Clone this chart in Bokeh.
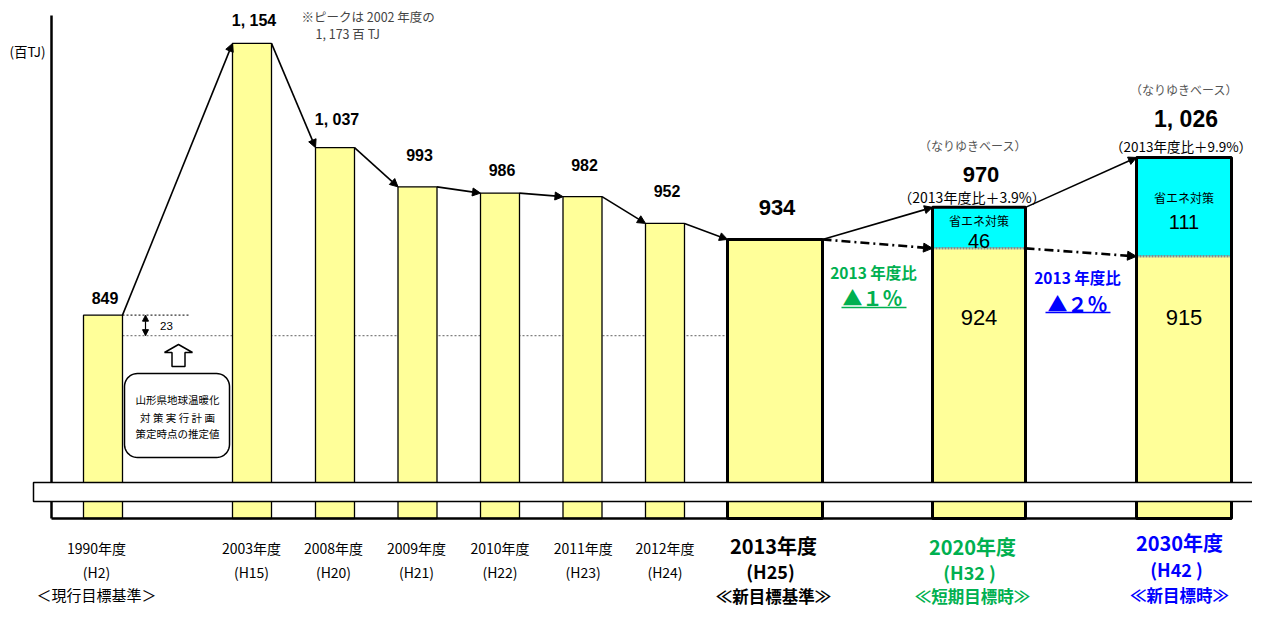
import math
from bokeh.plotting import figure
from bokeh.models import ColumnDataSource, Range1d, Arrow, NormalHead
from bokeh.core.properties import value
from bokeh.embed import file_html
from bokeh.resources import INLINE

# ---------------- data ----------------
years = ["1990年度", "2003年度", "2008年度", "2009年度", "2010年度", "2011年度",
         "2012年度", "2013年度", "2020年度", "2030年度"]
heisei = ["(H2)", "(H15)", "(H20)", "(H21)", "(H22)", "(H23)", "(H24)",
          "(H25)", "(H32 )", "(H42 )"]
notes = ["＜現行目標基準＞", "", "", "", "", "", "",
         "≪新目標基準≫", "≪短期目標時≫", "≪新目標時≫"]
totals = [849, 1154, 1037, 993, 986, 982, 952, 934, 970, 1026]   # 百TJ (なりゆき)
savings = [0, 0, 0, 0, 0, 0, 0, 0, 46, 111]                       # 省エネ対策
value_labels = ["849", "1, 154", "1, 037", "993", "986", "982", "952", "934", "970", "1, 026"]
base_ratio_labels = ["（2013年度比＋3.9%）", "（2013年度比＋9.9%）"]
reduction_labels = ["▲１％", "▲２％"]
estimate_gap_1990 = 23
peak_note = ["※ピークは 2002 年度の", "1, 173 百 TJ"]

# ---------------- layout ----------------
x_pos = [102.5, 251.5, 334.5, 417, 499.5, 582, 664.5, 774.5, 978.5, 1183.5]
bar_w = [39, 39, 39, 39, 39, 39, 39, 95, 93, 95]
bar_lw = [1.3] * 7 + [3, 3, 3]
lab_off = [17, 23, 28, 32, 23.5, 32, 32, 32, 33, 38.7]
lab_size = [16] * 7 + [22, 22, 23]
cat_dx = [-6.5, -0.5, -1.5, -1, 0, 0.7, 0, -1.5, -6.5, -4.5]
year_py = [547.3] * 7 + [545, 546, 542]
heisei_py = [571] * 7 + [570, 571, 568]
note_py = [594] + [0] * 6 + [595, 595, 594]

GREEN = "#00B050"
BLUE = "#0000FF"
YELLOW = "#FFFF99"
CYAN = "#00FFFF"
CJK = value("Noto Sans CJK JP")
LAT = value("Liberation Sans")

W, H, OFF = 1252, 608, 0
K = 0.891
V0, P0 = 976.8, 200.8


def v_at(py):
    """reference-page pixel row -> data value"""
    return V0 + (P0 - py) / K


Y_BASE = v_at(518)

p = figure(width=W, height=H, x_range=Range1d(OFF, OFF + W),
           y_range=Range1d(v_at(OFF + H), v_at(OFF)),
           output_backend="svg", toolbar_location=None,
           x_axis_location=None, y_axis_location=None, min_border=0)
p.outline_line_color = None
p.grid.visible = False
p.background_fill_color = "white"
p.border_fill_color = "white"


def txt(x, y, s, size, color="black", bold=False, font=CJK, align="center"):
    p.text(x=[x], y=[y], text=[s], text_font=font,
           text_font_size=value(f"{size}px"),
           text_font_style="bold" if bold else "normal",
           text_color=color, text_align=align, text_baseline="middle")


target = [t - s for t, s in zip(totals, savings)]
left = [x - w / 2 for x, w in zip(x_pos, bar_w)]
right = [x + w / 2 for x, w in zip(x_pos, bar_w)]

# estimate line for 1990 (849 - 23)
est = totals[0] - estimate_gap_1990
p.segment(x0=[right[0]], y0=[est], x1=[left[7]], y1=[est],
          line_color="#808080", line_width=1.3, line_dash="2 2")
p.segment(x0=[right[0]], y0=[totals[0]], x1=[right[0] + 68], y1=[totals[0]],
          line_color="#333333", line_width=1.2, line_dash="2 2")

src = ColumnDataSource(dict(x=x_pos, w=bar_w, total=totals, target=target, lw=bar_lw))
p.vbar(x="x", width="w", top="target", bottom=Y_BASE, source=src,
       fill_color=YELLOW, line_color=None)
sx = [x for x, s in zip(x_pos, savings) if s > 0]
sw = [w for w, s in zip(bar_w, savings) if s > 0]
st = [t for t, s in zip(totals, savings) if s > 0]
sb = [t for t, s in zip(target, savings) if s > 0]
p.vbar(x=sx, width=sw, top=st, bottom=sb, fill_color=CYAN, line_color=None)
p.segment(x0=[x - w / 2 for x, w in zip(sx, sw)], y0=sb,
          x1=[x + w / 2 for x, w in zip(sx, sw)], y1=sb,
          line_color="#8a8a8a", line_width=2.5, line_dash="2 1")
p.vbar(x="x", width="w", top="total", bottom=Y_BASE, source=src,
       fill_color=None, line_color="black", line_width="lw")

# axis lines
p.segment(x0=[51], y0=[Y_BASE], x1=[51], y1=[v_at(15)], line_color="black", line_width=2.5)
p.segment(x0=[51], y0=[Y_BASE], x1=[right[-1]], y1=[Y_BASE], line_color="black", line_width=2.5)

# axis break band
p.quad(left=[33], right=[1320], bottom=[v_at(501)], top=[v_at(482)],
       fill_color="white", line_color="black", line_width=1.5)

# trend arrows
solid = ColumnDataSource(dict(
    xs=[right[i] for i in range(9)], ys=[totals[i] for i in range(9)],
    xe=[left[i + 1] for i in range(9)], ye=[totals[i + 1] for i in range(9)]))
p.add_layout(Arrow(end=NormalHead(size=8, fill_color="black", line_color="black"),
                   x_start="xs", y_start="ys", x_end="xe", y_end="ye",
                   source=solid, line_width=1.6, line_color="black"))
dd = ColumnDataSource(dict(xs=[right[7], right[8]], ys=[totals[7], target[8]],
                           xe=[left[8], left[9]], ye=[target[8], target[9]]))
p.add_layout(Arrow(end=NormalHead(size=9, fill_color="black", line_color="black"),
                   x_start="xs", y_start="ys", x_end="xe", y_end="ye",
                   source=dd, line_width=2.6, line_color="black", line_dash="9 4 2 4"))

# 23 gap double arrow
p.add_layout(Arrow(start=NormalHead(size=6, fill_color="black", line_color="black"),
                   end=NormalHead(size=6, fill_color="black", line_color="black"),
                   x_start=145, y_start=est, x_end=145, y_end=totals[0],
                   line_width=1.2, line_color="black"))
txt(166, (est + totals[0]) / 2 - 1.2, str(estimate_gap_1990), 11.5, font=LAT)

# hollow up arrow
ax, tip = 178, 344
arr_px = [(ax, tip), (ax + 14, tip + 8), (ax + 6.5, tip + 8), (ax + 6.5, tip + 22),
          (ax - 6.5, tip + 22), (ax - 6.5, tip + 8), (ax - 14, tip + 8)]
p.patch([a for a, b in arr_px], [v_at(b) for a, b in arr_px],
        fill_color="white", line_color="black", line_width=1.5)


# rounded box
def rounded(x0, x1, py0, py1, r, n=10):
    xs, ys = [], []
    for cx, cy, a0 in [(x1 - r, py0 + r, -90), (x1 - r, py1 - r, 0),
                       (x0 + r, py1 - r, 90), (x0 + r, py0 + r, 180)]:
        for k in range(n + 1):
            a = math.radians(a0 + 90 * k / n)
            xs.append(cx + r * math.cos(a))
            ys.append(v_at(cy + r * math.sin(a)))
    return xs, ys


bx, by = rounded(124, 229, 373, 457, 13)
p.patch(bx, by, fill_color="white", line_color="black", line_width=1.5)
txt(177, v_at(399), "山形県地球温暖化", 10.5)
txt(177, v_at(416.5), "対 策 実 行 計 画", 10.5)
txt(177, v_at(432.5), "策定時点の推定値", 10.5)

# value labels
for i in range(10):
    txt(x_pos[i] + 2, totals[i] + lab_off[i] / K, value_labels[i], lab_size[i],
        bold=True, font=LAT)

# BAU notes
txt(x_pos[8] - 6, totals[8] + 61.6 / K, "（なりゆきベース）", 12, color="#555555")
txt(x_pos[9], totals[9] + 67.7 / K, "（なりゆきベース）", 12, color="#555555")
txt(x_pos[8] - 7, totals[8] + 10.3 / K, base_ratio_labels[0], 14)
txt(x_pos[9] - 3, totals[9] + 11.7 / K, base_ratio_labels[1], 13.5)

# inside stacked bars
for i, shift in [(8, 13.4), (9, 39.6)]:
    txt(x_pos[i], totals[i] - shift / K, "省エネ対策", 12)
for i, shift in [(8, 33.4), (9, 65)]:
    txt(x_pos[i], totals[i] - shift / K, str(savings[i]), 20, font=LAT)
for i in (8, 9):
    txt(x_pos[i], v_at(316.7), str(target[i]), 22, font=LAT)

# reduction notes
txt(873, v_at(271.7), "2013 年度比", 15.5, color=GREEN, bold=True)
txt(872, v_at(296.7), reduction_labels[0], 20, color=GREEN, bold=True)
p.segment(x0=[841], y0=[v_at(307)], x1=[906], y1=[v_at(307)], line_color=GREEN, line_width=1.5)
txt(1077, v_at(276.7), "2013 年度比", 15.5, color=BLUE, bold=True)
txt(1077, v_at(302.7), reduction_labels[1], 20, color=BLUE, bold=True)
p.segment(x0=[1045], y0=[v_at(312)], x1=[1110], y1=[v_at(312)], line_color=BLUE, line_width=1.5)

# peak note & unit
txt(301, v_at(15.5), peak_note[0], 12.5, color="#444444", align="left")
txt(315, v_at(33), peak_note[1], 12.5, color="#444444", align="left")
txt(27, v_at(50), "(百TJ)", 13.5)

# category labels
cat_color = ["black"] * 8 + [GREEN, BLUE]
for i in range(10):
    wide = i >= 7
    cx = x_pos[i] + cat_dx[i]
    txt(cx, v_at(year_py[i]), years[i], 20 if wide else 14, color=cat_color[i], bold=wide)
    txt(cx - (3 if wide else 0), v_at(heisei_py[i]), heisei[i], 18 if wide else 14,
        color=cat_color[i], bold=wide)
    if notes[i]:
        txt(cx, v_at(note_py[i]), notes[i], 16.5 if wide else 15, color=cat_color[i], bold=wide)

open("out.html", "w").write(file_html(p, INLINE))
